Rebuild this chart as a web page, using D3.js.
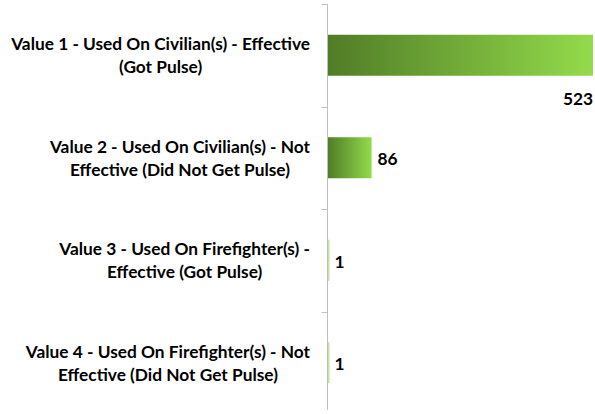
<!DOCTYPE html>
<html>
<head>
<meta charset="utf-8">
<script src="https://cdn.jsdelivr.net/npm/d3@7"></script>
<style>
  html, body { margin: 0; padding: 0; background: #ffffff; }
  svg { display: block; }
  text { font-family: Lato, "Open Sans", "Liberation Sans", sans-serif; font-weight: bold; fill: #000; }
</style>
</head>
<body>
<svg id="chart" width="595" height="414"></svg>
<script>
// Category labels (each split into its two wrapped lines) and values
const categories = [
  "Value 1 - Used On Civilian(s) - Effective (Got Pulse)",
  "Value 2 - Used On Civilian(s) - Not Effective (Did Not Get Pulse)",
  "Value 3 - Used On Firefighter(s) - Effective (Got Pulse)",
  "Value 4 - Used On Firefighter(s) - Not Effective (Did Not Get Pulse)"
];
const labelLines = [
  ["Value 1 - Used On Civilian(s) - Effective", "(Got Pulse)"],
  ["Value 2 - Used On Civilian(s) - Not", "Effective (Did Not Get Pulse)"],
  ["Value 3 - Used On Firefighter(s) -", "Effective (Got Pulse)"],
  ["Value 4 - Used On Firefighter(s) - Not", "Effective (Did Not Get Pulse)"]
];
const values = [523, 86, 1, 1];

const svg = d3.select("#chart");
const W = 595, H = 414;
const axisX = 327.5;

// Category bands (boundaries carry the tick marks) and bar bands inside them
const yBand = d3.scaleBand().domain(categories).range([4, 414]).padding(0);
const yBar = d3.scaleBand().domain(categories).range([4, 414]).paddingInner(0.6).paddingOuter(0.3);
const x = d3.scaleLinear().domain([0, 523]).range([328, 593]);

// Horizontal gradient for the bars
const defs = svg.append("defs");
const grad = defs.append("linearGradient").attr("id", "barGrad")
  .attr("x1", "0%").attr("x2", "100%").attr("y1", "0%").attr("y2", "0%");
grad.append("stop").attr("offset", "0%").attr("stop-color", "#517c27");
grad.append("stop").attr("offset", "100%").attr("stop-color", "#93db4b");

// Bars
svg.append("g").selectAll("rect").data(values).join("rect")
  .attr("x", x(0))
  .attr("y", (d, i) => yBar(categories[i]))
  .attr("width", d => Math.max(x(d) - x(0), 1.5))
  .attr("height", yBar.bandwidth())
  .attr("fill", d => (x(d) - x(0) < 3) ? "#c5e3a6" : "url(#barGrad)");

// Category axis line with tick marks at band boundaries
const axis = svg.append("g").attr("stroke", "#c0c0c0").attr("stroke-width", 1);
axis.append("line").attr("x1", axisX).attr("x2", axisX).attr("y1", 4).attr("y2", 410);
const bounds = categories.map(c => yBand(c));
axis.selectAll("line.tick").data(bounds).join("line").attr("class", "tick")
  .attr("x1", axisX - 6).attr("x2", axisX)
  .attr("y1", d => Math.round(d) + 0.5).attr("y2", d => Math.round(d) + 0.5);

// Label font size chosen so the widest line spans the available width
const labelRight = 310;
const widest = 299;
const probe = svg.append("text").attr("font-size", 16).text(labelLines[0][0]);
const fontSize = 16 * widest / probe.node().getComputedTextLength();
probe.remove();

// Category labels: lines centred within a block right-aligned near the axis
const labels = svg.append("g");
labelLines.forEach((lines, i) => {
  const cy = yBand(categories[i]) + yBand.bandwidth() / 2;
  const g = labels.append("g");
  const ts = lines.map((t, j) => g.append("text")
    .attr("font-size", fontSize)
    .attr("text-anchor", "middle")
    .attr("dominant-baseline", "central")
    .attr("y", cy + (j - 0.5) * 23)
    .text(t));
  const maxW = d3.max(ts, t => t.node().getComputedTextLength());
  ts.forEach(t => t.attr("x", labelRight - maxW / 2));
});

// Value labels
const vl = svg.append("g");
values.forEach((v, i) => {
  const cy = yBar(categories[i]) + yBar.bandwidth() / 2;
  if (x(v) > W - 60) {
    vl.append("text").attr("font-size", fontSize).attr("text-anchor", "end")
      .attr("x", x(v)).attr("y", yBar(categories[i]) + yBar.bandwidth() + 29)
      .text(v);
  } else {
    vl.append("text").attr("font-size", fontSize).attr("dominant-baseline", "central")
      .attr("x", x(v) + 6).attr("y", cy + 1)
      .text(v);
  }
});
</script>
</body>
</html>
